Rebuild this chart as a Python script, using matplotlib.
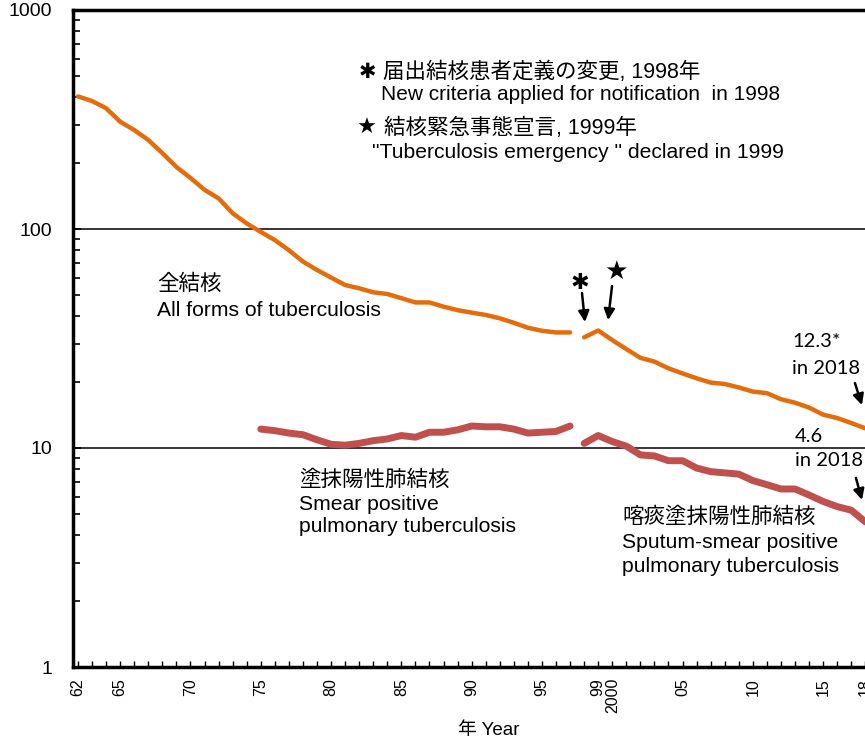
import matplotlib
matplotlib.use('Agg')
from matplotlib import pyplot as plt

plt.rcParams['font.family'] = ['Liberation Sans', 'Noto Sans CJK JP', 'DejaVu Sans']

# notification rate per 100,000 (all forms)
years_old = list(range(1962, 1998))
all_forms_old = [403, 384, 356, 309, 283, 255, 222, 192, 171, 151,
                 138, 118, 106, 97, 89, 80, 71, 65, 60, 55.5,
                 53.6, 51.4, 50.5, 48.3, 46.2, 46.2, 44.2, 42.6, 41.5, 40.5,
                 39.1, 37.3, 35.4, 34.3, 33.7, 33.7]
years_new = list(range(1998, 2019))
all_forms_new = [32.0, 34.4, 31.1, 28.3, 25.8, 24.8, 23.1, 21.9, 20.8, 19.9,
                 19.6, 18.9, 18.1, 17.8, 16.7, 16.1, 15.3, 14.2, 13.7, 13.0, 12.3]

# smear positive pulmonary
years_smear = list(range(1975, 1998))
smear_old = [12.2, 12.0, 11.7, 11.5, 10.9, 10.4, 10.3, 10.5, 10.8, 11.0,
             11.4, 11.2, 11.8, 11.8, 12.1, 12.6, 12.5, 12.5, 12.2, 11.7,
             11.8, 11.9, 12.6]
smear_new = [10.5, 11.4, 10.7, 10.2, 9.3, 9.2, 8.75, 8.75, 8.1, 7.8,
             7.7, 7.6, 7.1, 6.8, 6.5, 6.5, 6.1, 5.7, 5.4, 5.2, 4.6]

tick_years = [1962, 1965, 1970, 1975, 1980, 1985, 1990, 1995, 1999, 2000, 2005, 2010, 2015, 2018]
tick_text = ['62', '65', '70', '75', '80', '85', '90', '95', '99', '2000', '05', '10', '15', '18']

ORANGE = '#E46C0A'
RED = '#C0504D'

W, H = 865, 742
fig = plt.figure(figsize=(W / 100, H / 100), dpi=100)
ax = fig.add_axes([73 / W, (H - 667) / H, 799.5 / W, 657 / H])


def px(x, y):
    return x / W, 1 - y / H


ax.set_yscale('log')
ax.set_ylim(1, 1000)
ax.set_xlim(1961.644, 2018.51)

ax.axhline(10, color='black', lw=1.1, zorder=1)
ax.axhline(100, color='black', lw=1.1, zorder=1)

ax.plot(years_old, all_forms_old, color=ORANGE, lw=3.2, solid_capstyle='round', zorder=3)
ax.plot(years_new, all_forms_new, color=ORANGE, lw=3.2, solid_capstyle='round', zorder=3)
ax.plot(years_smear, smear_old, color=RED, lw=5, solid_capstyle='round', zorder=3)
ax.plot(years_new, smear_new, color=RED, lw=5, solid_capstyle='round', zorder=3)

for s in ['left', 'bottom', 'top']:
    ax.spines[s].set_linewidth(2.5)
ax.spines['right'].set_visible(False)

ax.set_xticks(list(range(1962, 2019)))
ax.set_xticklabels([tick_text[tick_years.index(y)] if y in tick_years else '' for y in range(1962, 2019)],
                   rotation=90, fontsize=11.5, va='top', ha='center')
ax.tick_params(axis='x', direction='in', length=4, width=1, pad=8)
ax.tick_params(axis='y', which='both', direction='in', width=1.2, right=False)
ax.tick_params(axis='y', which='major', length=6, pad=15, labelsize=14)
ax.tick_params(axis='y', which='minor', length=5)
ax.set_yticks([1, 10, 100, 1000])
ax.set_yticklabels(['1', '10', '100', '1000'])

fig.text(*px(489, 730), '年 Year', fontsize=13.5, ha='center', va='center')

# notes at top
fig.text(*px(367, 72), '\u2731', fontsize=15, ha='center', va='center', family='DejaVu Sans')
fig.text(*px(383, 72), '届出結核患者定義の変更, 1998年', fontsize=15.5, va='center')
fig.text(*px(381, 94), 'New criteria applied for notification  in 1998', fontsize=15, va='center')
fig.text(*px(367, 128), '★', fontsize=16, ha='center', va='center', family='DejaVu Sans')
fig.text(*px(384, 128), '結核緊急事態宣言, 1999年', fontsize=15.5, va='center')
fig.text(*px(372, 152), '"Tuberculosis emergency " declared in 1999', fontsize=15.2, va='center')

# series labels
fig.text(*px(157, 284), '全結核', fontsize=15.5, va='center')
fig.text(*px(157, 310), 'All forms of tuberculosis', fontsize=15.2, va='center')
fig.text(*px(299, 480), '塗抹陽性肺結核', fontsize=15.5, va='center')
fig.text(*px(299, 504), 'Smear positive', fontsize=15.2, va='center')
fig.text(*px(299, 527), 'pulmonary tuberculosis', fontsize=15.2, va='center')
fig.text(*px(622, 517), '喀痰塗抹陽性肺結核', fontsize=15.5, va='center')
fig.text(*px(622, 542), 'Sputum-smear positive', fontsize=15.2, va='center')
fig.text(*px(622, 566), 'pulmonary tuberculosis', fontsize=15.2, va='center')

# 2018 values
fig.text(*px(792, 341), '12.3*', fontsize=14.5, va='center', family='Lato')
fig.text(*px(792, 368), 'in 2018', fontsize=14.5, va='center', family='Lato')
fig.text(*px(795, 437), '4.6', fontsize=14.5, va='center', family='Lato')
fig.text(*px(795, 461), 'in 2018', fontsize=14.5, va='center', family='Lato')

arrow = dict(arrowstyle='-|>', color='black', lw=1.8, mutation_scale=16, shrinkA=0, shrinkB=0)
ax.annotate('', xy=(2017.76, 15.7), xytext=(-7, 22), textcoords='offset pixels', arrowprops=arrow)
ax.annotate('', xy=(2017.76, 5.79), xytext=(-6, 22), textcoords='offset pixels', arrowprops=arrow)
ax.annotate('', xy=(1998.06, 37.6), xytext=(-3, 29), textcoords='offset pixels', arrowprops=arrow)
ax.annotate('', xy=(1999.7, 38.4), xytext=(4, 34), textcoords='offset pixels', arrowprops=arrow)
fig.text(*px(580, 283), '\u2731', fontsize=16, ha='center', va='center', family='DejaVu Sans')
fig.text(*px(616, 272), '★', fontsize=19, ha='center', va='center', family='DejaVu Sans')

fig.savefig('out.png', dpi=100)
